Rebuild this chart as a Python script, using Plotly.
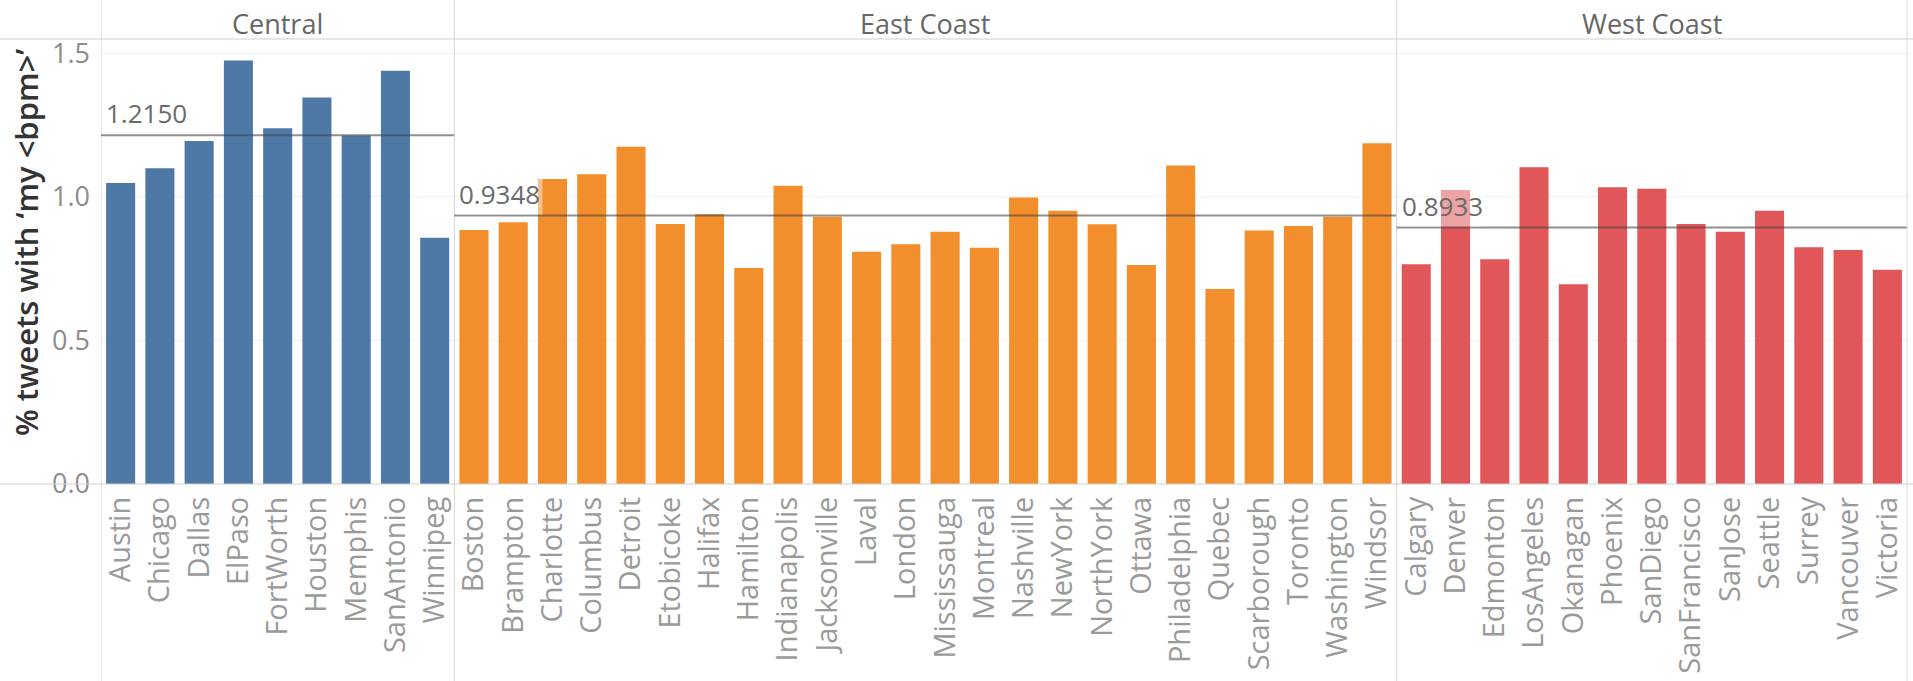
import plotly.graph_objects as go

# ---------------- data ----------------
central_cities = ["Austin", "Chicago", "Dallas", "ElPaso", "FortWorth", "Houston",
                  "Memphis", "SanAntonio", "Winnipeg"]
central_values = [1.048, 1.100, 1.195, 1.475, 1.239, 1.346, 1.214, 1.439, 0.858]

east_cities = ["Boston", "Brampton", "Charlotte", "Columbus", "Detroit", "Etobicoke",
               "Halifax", "Hamilton", "Indianapolis", "Jacksonville", "Laval", "London",
               "Mississauga", "Montreal", "Nashville", "NewYork", "NorthYork", "Ottawa",
               "Philadelphia", "Quebec", "Scarborough", "Toronto", "Washington", "Windsor"]
east_values = [0.885, 0.912, 1.062, 1.079, 1.175, 0.906, 0.940, 0.752, 1.039, 0.931,
               0.809, 0.835, 0.879, 0.823, 0.998, 0.952, 0.905, 0.763, 1.109, 0.679,
               0.883, 0.899, 0.931, 1.187]

west_cities = ["Calgary", "Denver", "Edmonton", "LosAngeles", "Okanagan", "Phoenix",
               "SanDiego", "SanFrancisco", "SanJose", "Seattle", "Surrey", "Vancouver",
               "Victoria"]
west_values = [0.765, 1.024, 0.783, 1.103, 0.696, 1.034, 1.028, 0.906, 0.879, 0.952,
               0.825, 0.815, 0.746]

region_names = ["Central", "East Coast", "West Coast"]
region_means = [1.2150, 0.9348, 0.8933]
y_ticks = [0.0, 0.5, 1.0, 1.5]
y_title = "% tweets with ‘my &lt;bpm&gt;’"

# ---------------- styling ----------------
FONT = "Open Sans"
colors = ["#4E79A7", "#F28E2B", "#E15759"]
W, H = 1913, 681
ML, MR, MT, MB = 101, 6, 39, 197
PW, PH = W - ML - MR, H - MT - MB

groups = [(central_cities, central_values), (east_cities, east_values), (west_cities, west_values)]
all_cities = central_cities + east_cities + west_cities

fig = go.Figure()
for (cities, vals), col, name in zip(groups, colors, region_names):
    fig.add_trace(go.Bar(x=cities, y=vals, marker=dict(color=col, line=dict(width=0)),
                         name=name, showlegend=False))


def px_to_paper_x(px):
    return (px - ML) / PW


def px_to_paper_y(py):
    return (H - MB - py) / PH


line_col = "#d6d6d6"
shapes = []
annotations = []

# header bottom line and baseline spanning full width
for py in (MT, H - MB):
    shapes.append(dict(type="line", xref="paper", yref="paper",
                       x0=px_to_paper_x(0), x1=px_to_paper_x(W), y0=px_to_paper_y(py), y1=px_to_paper_y(py),
                       line=dict(color="#cfcfcf", width=1), layer="above"))

start = 0
for (cities, vals), mean, name in zip(groups, region_means, region_names):
    n = len(cities)
    x0 = start - 0.5
    x1 = start + n - 0.5
    # pane separator (left edge), full height
    shapes.append(dict(type="line", xref="x", yref="paper", x0=x0, x1=x0,
                       y0=px_to_paper_y(H), y1=px_to_paper_y(0),
                       line=dict(color=line_col, width=1), layer="above"))
    # mean reference line
    shapes.append(dict(type="line", xref="x", yref="y", x0=x0, x1=x1, y0=mean, y1=mean,
                       line=dict(color="rgba(70,70,70,0.6)", width=2), layer="above"))
    annotations.append(dict(x=x0, y=mean, xref="x", yref="y", xanchor="left", yanchor="bottom",
                            xshift=2, yshift=1, text=f"{mean:.4f}", showarrow=False,
                            bgcolor="rgba(255,255,255,0.45)", borderpad=2,
                            font=dict(family=FONT, size=26, color="#6a6a6a")))
    # header
    annotations.append(dict(x=(x0 + x1) / 2, y=px_to_paper_y(23), xref="x", yref="paper",
                            xanchor="center", yanchor="middle", text=name, showarrow=False,
                            font=dict(family=FONT, size=27, color="#666666")))
    start += n

# right edge line
shapes.append(dict(type="line", xref="paper", yref="paper", x0=1, x1=1,
                   y0=px_to_paper_y(H), y1=px_to_paper_y(0),
                   line=dict(color=line_col, width=1), layer="above"))

# y-axis title
annotations.append(dict(x=px_to_paper_x(26), y=px_to_paper_y(243), xref="paper", yref="paper",
                        xanchor="center", yanchor="middle", textangle=-90, text=y_title,
                        showarrow=False, font=dict(family=FONT, size=31, color="#333333", weight=600)))

fig.update_layout(
    width=W, height=H,
    margin=dict(l=ML, r=MR, t=MT, b=MB, pad=0),
    paper_bgcolor="white", plot_bgcolor="white",
    barmode="relative", bargap=0.26,
    shapes=shapes, annotations=annotations,
    font=dict(family=FONT),
)
fig.update_xaxes(type="category", categoryorder="array", categoryarray=all_cities,
                 range=[-0.5, len(all_cities) - 0.5], tickangle=-90,
                 tickfont=dict(family=FONT, size=29, color="#9a9a9a"),
                 ticks="", ticklabelstandoff=6, showgrid=False, showline=False, zeroline=False)
fig.update_yaxes(range=[0, 1.55], tickvals=y_ticks, ticktext=[f"{v:.1f}" for v in y_ticks],
                 tickfont=dict(family=FONT, size=27, color="#8c8c8c"), ticks="",
                 ticklabelstandoff=10, showgrid=True, gridcolor="#f0f0f0", gridwidth=1,
                 zeroline=False, showline=False)

fig.write_html("out.html", config={"displayModeBar": False},
               post_script="document.body.style.margin='0';document.body.style.overflow='hidden';")
